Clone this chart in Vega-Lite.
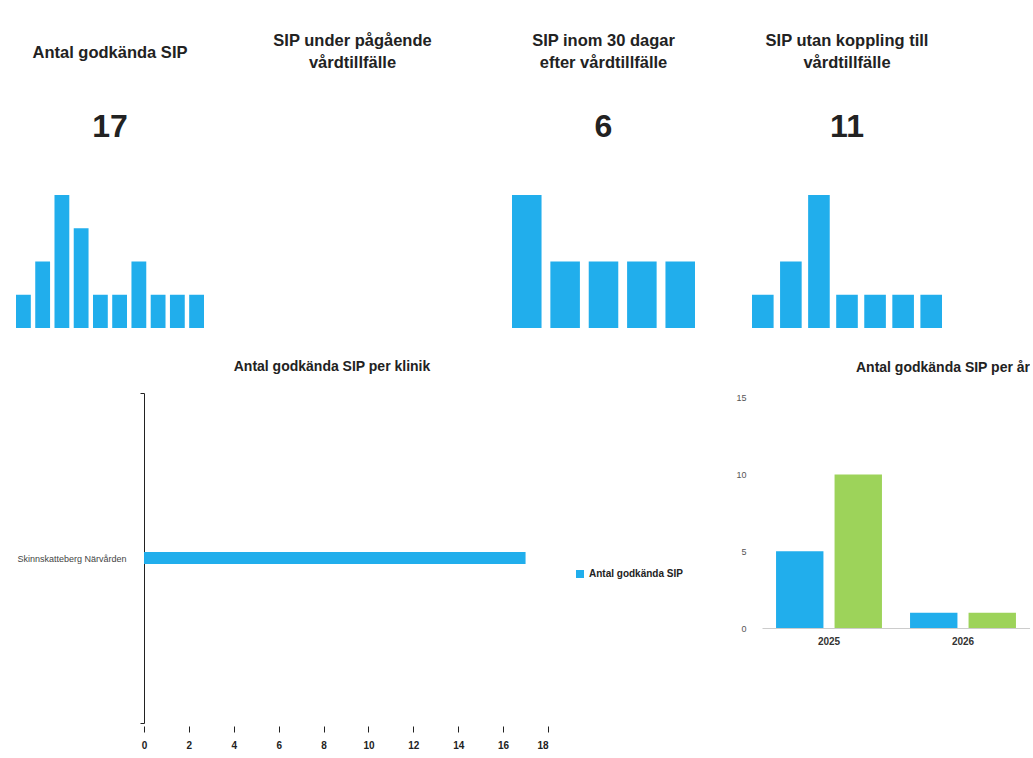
{
  "$schema": "https://vega.github.io/schema/vega-lite/v6.json",
  "background": "white",
  "padding": {"left": 16, "top": 32, "right": 0, "bottom": 0},
  "config": {
    "view": {"stroke": null},
    "font": "Liberation Sans, Arial, sans-serif",
    "title": {"color": "#222222", "fontWeight": "bold"}
  },
  "datasets": {
    "godkanda": [
      {"period": 1, "antal": 1}, {"period": 2, "antal": 2}, {"period": 3, "antal": 4}, {"period": 4, "antal": 3}, {"period": 5, "antal": 1},
      {"period": 6, "antal": 1}, {"period": 7, "antal": 2}, {"period": 8, "antal": 1}, {"period": 9, "antal": 1}, {"period": 10, "antal": 1}
    ],
    "pagaende": [],
    "inom30": [
      {"period": 1, "antal": 2}, {"period": 2, "antal": 1}, {"period": 3, "antal": 1}, {"period": 4, "antal": 1}, {"period": 5, "antal": 1}
    ],
    "utan": [
      {"period": 1, "antal": 1}, {"period": 2, "antal": 2}, {"period": 3, "antal": 4}, {"period": 4, "antal": 1}, {"period": 5, "antal": 1},
      {"period": 6, "antal": 1}, {"period": 7, "antal": 1}
    ],
    "klinik": [
      {"klinik": "Skinnskatteberg Närvården", "antal": 17, "serie": "Antal godkända SIP"}
    ],
    "ar": [
      {"ar": "2025", "typ": "SIP inom 30 dagar efter vårdtillfälle", "antal": 5},
      {"ar": "2025", "typ": "SIP utan koppling till vårdtillfälle", "antal": 10},
      {"ar": "2026", "typ": "SIP inom 30 dagar efter vårdtillfälle", "antal": 1},
      {"ar": "2026", "typ": "SIP utan koppling till vårdtillfälle", "antal": 1}
    ]
  },
  "spacing": 32,
  "vconcat": [
    {
      "spacing": 57,
      "hconcat": [
        {
          "width": 188, "height": 133,
          "title": {"text": ["Antal godkända SIP"], "subtitle": "17", "fontSize": 16.5, "lineHeight": 22, "subtitleFontSize": 32, "subtitleFontWeight": "bold", "subtitleColor": "#222222", "subtitlePadding": 51, "offset": 52},
          "data": {"name": "godkanda"},
          "mark": {"type": "bar", "color": "#21AEEC"},
          "encoding": {
            "x": {"field": "period", "type": "ordinal", "axis": null, "scale": {"paddingInner": 0.23, "paddingOuter": 0}},
            "y": {"field": "antal", "type": "quantitative", "axis": null, "scale": {"nice": false}}
          }
        },
        {
          "width": 193, "height": 133,
          "title": {"text": ["SIP under pågående", "vårdtillfälle"], "subtitle": " ", "dx": -6, "fontSize": 16.5, "lineHeight": 22, "subtitleFontSize": 32, "subtitleFontWeight": "bold", "subtitleColor": "#222222", "subtitlePadding": 41, "offset": 52},
          "data": {"name": "pagaende"},
          "mark": {"type": "bar", "color": "#21AEEC"},
          "encoding": {
            "x": {"field": "period", "type": "ordinal", "axis": null},
            "y": {"field": "antal", "type": "quantitative", "axis": null}
          }
        },
        {
          "width": 183, "height": 133,
          "title": {"text": ["SIP inom 30 dagar", "efter vårdtillfälle"], "subtitle": "6", "fontSize": 16.5, "lineHeight": 22, "subtitleFontSize": 32, "subtitleFontWeight": "bold", "subtitleColor": "#222222", "subtitlePadding": 41, "offset": 52},
          "data": {"name": "inom30"},
          "mark": {"type": "bar", "color": "#21AEEC"},
          "encoding": {
            "x": {"field": "period", "type": "ordinal", "axis": null, "scale": {"paddingInner": 0.23, "paddingOuter": 0}},
            "y": {"field": "antal", "type": "quantitative", "axis": null, "scale": {"nice": false}}
          }
        },
        {
          "width": 190, "height": 133,
          "title": {"text": ["SIP utan koppling till", "vårdtillfälle"], "subtitle": "11", "fontSize": 16.5, "lineHeight": 22, "subtitleFontSize": 32, "subtitleFontWeight": "bold", "subtitleColor": "#222222", "subtitlePadding": 41, "offset": 52},
          "data": {"name": "utan"},
          "mark": {"type": "bar", "color": "#21AEEC"},
          "encoding": {
            "x": {"field": "period", "type": "ordinal", "axis": null, "scale": {"paddingInner": 0.23, "paddingOuter": 0}},
            "y": {"field": "antal", "type": "quantitative", "axis": null, "scale": {"nice": false}}
          }
        }
      ]
    },
    {
      "spacing": 52,
      "resolve": {"scale": {"color": "independent"}, "legend": {"color": "independent"}},
      "hconcat": [
        {
          "width": 532, "height": 330,
          "title": {"text": "Antal godkända SIP per klinik", "fontSize": 14, "offset": 15, "dx": 50},
          "data": {"name": "klinik"},
          "mark": {"type": "bar", "height": 12},
          "encoding": {
            "y": {"field": "klinik", "type": "nominal", "title": null, "scale": {"paddingInner": 0, "paddingOuter": 0},
              "axis": {"offset": -128, "tickBand": "extent", "domainColor": "#222222", "tickColor": "#222222", "tickSize": 4, "labelFontSize": 9, "labelPadding": 14, "labelColor": "#444444"}},
            "x": {"field": "antal", "type": "quantitative", "title": null, "scale": {"domain": [-5.704, 18], "nice": false, "zero": false},
              "axis": {"values": [0, 2, 4, 6, 8, 10, 12, 14, 16, 18], "domain": false, "grid": false, "tickColor": "#222222", "tickSize": 6, "offset": 3, "labelPadding": 8, "labelFontSize": 10, "labelFontWeight": "bold", "labelColor": "#222222"}},
            "x2": {"datum": 0},
            "color": {"field": "serie", "type": "nominal", "scale": {"domain": ["Antal godkända SIP"], "range": ["#21AEEC"]},
              "legend": {"title": null, "orient": "none", "legendX": 559, "legendY": 176, "symbolType": "square", "symbolSize": 64, "labelFontSize": 10, "labelFontWeight": "bold", "labelColor": "#222222"}}
          }
        },
        {
          "width": 268, "height": 235,
          "title": {"text": "Antal godkända SIP per år", "anchor": "end", "fontSize": 14, "offset": 18},
          "data": {"name": "ar"},
          "mark": "bar",
          "encoding": {
            "x": {"field": "ar", "type": "ordinal", "title": null, "scale": {"paddingInner": 0, "paddingOuter": 0},
              "axis": {"labelAngle": 0, "ticks": false, "domainColor": "#cccccc", "labelFontSize": 10, "labelFontWeight": "bold", "labelColor": "#333333", "labelPadding": 8}},
            "xOffset": {"field": "typ", "type": "nominal", "scale": {"paddingInner": 0.19, "paddingOuter": 0.24}},
            "y": {"field": "antal", "type": "quantitative", "title": null, "scale": {"domain": [0, 15.3], "nice": false},
              "axis": {"values": [0, 5, 10, 15], "domain": false, "ticks": false, "grid": false, "labelFontSize": 9, "labelColor": "#555555", "labelPadding": 16}},
            "color": {"field": "typ", "type": "nominal", "scale": {"domain": ["SIP inom 30 dagar efter vårdtillfälle", "SIP utan koppling till vårdtillfälle"], "range": ["#21AEEC", "#9DD35A"]}, "legend": null}
          }
        }
      ]
    }
  ]
}
